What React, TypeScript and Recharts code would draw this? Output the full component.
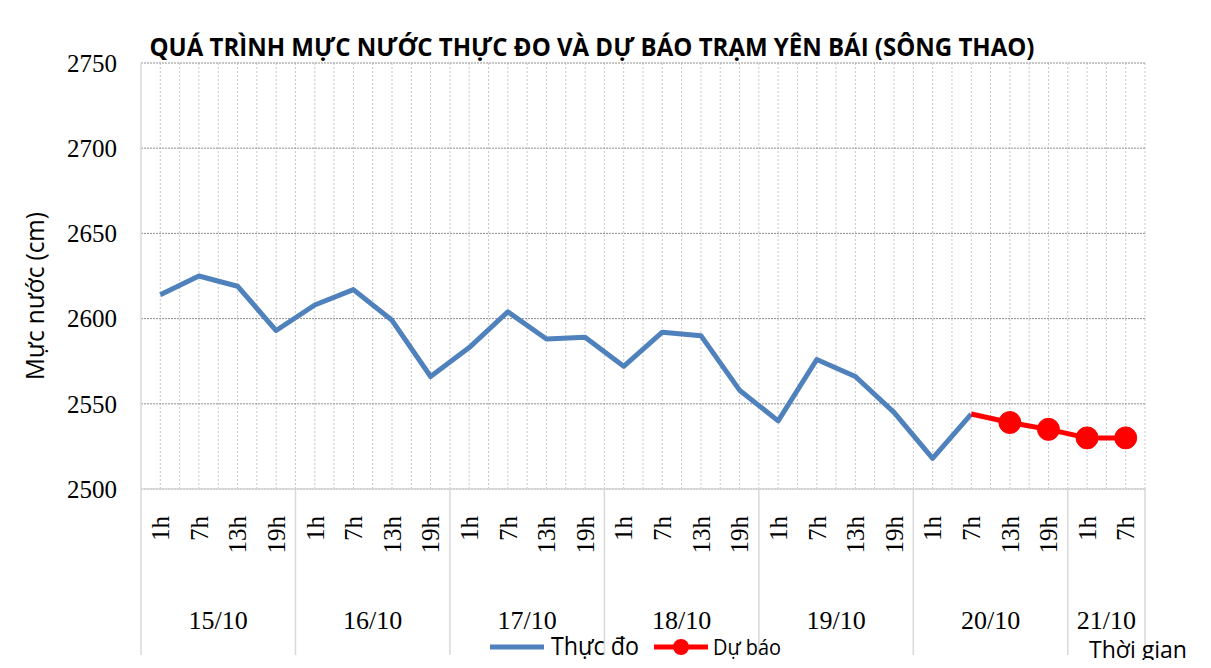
import { LineChart, Line, XAxis, YAxis, CartesianGrid } from "recharts";

// ---- data ----
const days = ["15/10", "16/10", "17/10", "18/10", "19/10", "20/10", "21/10"];
const dayCounts = [4, 4, 4, 4, 4, 4, 2];
const hours = ["1h", "7h", "13h", "19h"];

const observed: (number | null)[] = [
  2614, 2625, 2619, 2593,
  2608, 2617, 2599, 2566,
  2583, 2604, 2588, 2589,
  2572, 2592, 2590, 2558,
  2540, 2576, 2566, 2545,
  2518, 2544, null, null,
  null, null,
];

const forecast: (number | null)[] = [
  null, null, null, null,
  null, null, null, null,
  null, null, null, null,
  null, null, null, null,
  null, null, null, null,
  null, 2544, 2539, 2535,
  2530, 2530,
];

const yTicks = [2500, 2550, 2600, 2650, 2700, 2750];

// ---- layout ----
const W = 1211;
const H = 668;
const MARGIN = { top: 63, right: 66, bottom: 149, left: 81 };
const Y_AXIS_W = 60;
const X_AXIS_H = 30;
const SERIF = "'Liberation Serif', 'Times New Roman', serif";
const SANS = "'Open Sans', 'Noto Sans', sans-serif";
const BLUE = "#4f81bd";
const RED = "#ff0000";
const SEP = "#d9d9d9";

type Row = {
  key: string;
  day: string;
  hour: string;
  first: boolean;
  count: number;
  observed: number | null;
  forecast: number | null;
};

const rows: Row[] = [];
days.forEach((day, d) => {
  for (let h = 0; h < dayCounts[d]; h++) {
    const i = rows.length;
    rows.push({
      key: `${day} ${hours[h]}`,
      day,
      hour: hours[h],
      first: h === 0,
      count: dayCounts[d],
      observed: observed[i],
      forecast: forecast[i],
    });
  }
});

const firstForecast = forecast.findIndex((v) => v !== null);
// half of one category slot; points sit in the middle of each slot like Excel
const HALF_BAND = (W - MARGIN.left - MARGIN.right - Y_AXIS_W) / rows.length / 2;

function TimeTick(props: any) {
  const { x, y, payload } = props;
  const idx = payload.index;
  const row = rows[idx];
  const half = HALF_BAND;
  const ty = y + 27;
  return (
    <g>
      <text
        x={x}
        y={ty}
        dy="0.35em"
        transform={`rotate(-90, ${x}, ${ty})`}
        textAnchor="end"
        fontFamily={SERIF}
        fontSize={25}
        fill="#000"
      >
        {row.hour}
      </text>
      {row.first && (
        <g>
          <line x1={x - half} x2={x - half} y1={y} y2={y + 166} stroke={SEP} strokeWidth={1.5} />
          <text
            x={x - half + row.count * half}
            y={y + 140}
            textAnchor="middle"
            fontFamily={SERIF}
            fontSize={26}
            fill="#000"
          >
            {row.day}
          </text>
        </g>
      )}
      {idx === rows.length - 1 && (
        <line x1={x + half} x2={x + half} y1={y} y2={y + 166} stroke={SEP} strokeWidth={1.5} />
      )}
    </g>
  );
}

function ForecastDot(props: any) {
  const { cx, cy, index } = props;
  if (index === firstForecast || cx == null || cy == null) return <g key={`d${index}`} />;
  return <circle key={`d${index}`} cx={cx} cy={cy} r={11} fill={RED} stroke={RED} />;
}

export default function App() {
  return (
    <div
      style={{
        position: "relative",
        margin: -8,
        width: W,
        height: H,
        overflow: "hidden",
        background: "#fff",
      }}
    >
      <div
        style={{
          position: "absolute",
          left: 4,
          top: 5,
          width: 1200,
          height: 700,
          border: "1px solid #c4c4c4",
          borderTop: "3px solid #d6d6d6",
          boxSizing: "border-box",
        }}
      />
      <div style={{ position: "absolute", left: 0, top: 0 }}>
        <LineChart width={W} height={H} data={rows} margin={MARGIN}>
          <CartesianGrid
            horizontal={false}
            stroke="#c8c8c8"
            strokeDasharray="2 2"
            verticalCoordinatesGenerator={({ offset }: any) => {
              const n = rows.length * 2;
              return Array.from({ length: n }, (_, i) => offset.left + ((i + 1) * offset.width) / n);
            }}
          />
          <CartesianGrid vertical={false} stroke="#8f8f8f" strokeDasharray="2 1" />
          <XAxis
            dataKey="key"
            interval={0}
            height={X_AXIS_H}
            padding={{ left: HALF_BAND, right: HALF_BAND }}
            tickLine={false}
            tickSize={0}
            tickMargin={0}
            axisLine={{ stroke: SEP, strokeWidth: 1.5 }}
            tick={(p: any) => <TimeTick {...p} />}
          />
          <YAxis
            width={Y_AXIS_W}
            domain={[2500, 2750]}
            ticks={yTicks}
            interval={0}
            tickLine={false}
            tickSize={0}
            tickMargin={24}
            axisLine={{ stroke: SEP, strokeWidth: 1.5 }}
            tick={{ fontFamily: SERIF, fontSize: 25, fill: "#000" }}
          />
          <Line
            type="linear"
            dataKey="observed"
            stroke={BLUE}
            strokeWidth={5}
            strokeLinejoin="round"
            dot={false}
            activeDot={false}
            isAnimationActive={false}
          />
          <Line
            type="linear"
            dataKey="forecast"
            stroke={RED}
            strokeWidth={5}
            strokeLinejoin="round"
            dot={(p: any) => <ForecastDot {...p} />}
            activeDot={false}
            isAnimationActive={false}
          />
        </LineChart>
      </div>
      <svg
        width={W}
        height={H}
        style={{ position: "absolute", left: 0, top: 0, pointerEvents: "none" }}
      >
        <text
          x={592}
          y={56}
          textAnchor="middle"
          fontFamily={SANS}
          fontWeight="bold"
          fontSize={25}
          textLength={885}
          lengthAdjust="spacingAndGlyphs"
          fill="#000"
        >
          QUÁ TRÌNH MỰC NƯỚC THỰC ĐO VÀ DỰ BÁO TRẠM YÊN BÁI (SÔNG THAO)
        </text>
        <text
          x={44}
          y={296}
          transform="rotate(-90, 44, 296)"
          textAnchor="middle"
          fontFamily={SANS}
          fontSize={25}
          textLength={168}
          lengthAdjust="spacingAndGlyphs"
          fill="#000"
        >
          Mực nước (cm)
        </text>
        <line x1={490} x2={544} y1={647} y2={647} stroke={BLUE} strokeWidth={5} />
        <text
          x={551}
          y={655}
          fontFamily={SANS}
          fontSize={26}
          textLength={88}
          lengthAdjust="spacingAndGlyphs"
          fill="#000"
        >
          Thực đo
        </text>
        <line x1={654} x2={708} y1={647} y2={647} stroke={RED} strokeWidth={5} />
        <circle cx={681} cy={647} r={8} fill={RED} />
        <text
          x={713}
          y={655}
          fontFamily={SANS}
          fontSize={21}
          textLength={68}
          lengthAdjust="spacingAndGlyphs"
          fill="#000"
        >
          Dự báo
        </text>
        <text
          x={1089}
          y={658}
          fontFamily={SANS}
          fontSize={23}
          textLength={98}
          lengthAdjust="spacingAndGlyphs"
          fill="#000"
        >
          Thời gian
        </text>
      </svg>
    </div>
  );
}
